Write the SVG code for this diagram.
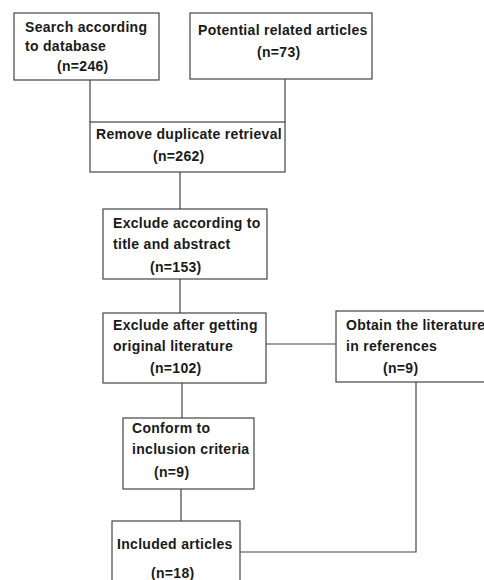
<svg xmlns="http://www.w3.org/2000/svg" width="484" height="580" viewBox="0 0 484 580">
<style>
rect{fill:#fff;stroke:#444;stroke-width:1.2}
line,polyline{fill:none;stroke:#444;stroke-width:1.2}
text{font-family:"Liberation Sans",Arial,sans-serif;font-weight:bold;font-size:14px;letter-spacing:0.3px;fill:#1a1a1a}
</style>
<rect x="0" y="0" width="484" height="580" style="stroke:none"/>
<g id="connectors">
<line x1="90" y1="80" x2="90" y2="122"/>
<line x1="285" y1="79" x2="285" y2="122"/>
<line x1="180" y1="172" x2="180" y2="209"/>
<line x1="180" y1="279" x2="180" y2="313"/>
<line x1="266" y1="344" x2="336" y2="344"/>
<line x1="182" y1="383" x2="182" y2="418"/>
<line x1="181" y1="489" x2="181" y2="521"/>
<polyline points="416,382 416,552 240,552"/>
</g>
<g id="search">
<rect x="14" y="13" width="145" height="67"/>
<text x="25" y="32">Search according</text>
<text x="25" y="51">to database</text>
<text x="57" y="71">(n=246)</text>
</g>
<g id="potential">
<rect x="190" y="13" width="182" height="66"/>
<text x="198" y="35">Potential related articles</text>
<text x="257" y="57">(n=73)</text>
</g>
<g id="remove">
<rect x="90" y="122" width="195" height="50"/>
<text x="96" y="139">Remove duplicate retrieval</text>
<text x="153" y="161">(n=262)</text>
</g>
<g id="exclude-title">
<rect x="103" y="209" width="164" height="70"/>
<text x="113" y="228">Exclude according to</text>
<text x="113" y="249">title and abstract</text>
<text x="150" y="272">(n=153)</text>
</g>
<g id="exclude-original">
<rect x="103" y="313" width="163" height="70"/>
<text x="113" y="330">Exclude after getting</text>
<text x="113" y="351">original literature</text>
<text x="150" y="373">(n=102)</text>
</g>
<g id="obtain">
<rect x="336" y="311" width="160" height="71"/>
<text x="346" y="330">Obtain the literature</text>
<text x="346" y="351">in references</text>
<text x="383" y="373">(n=9)</text>
</g>
<g id="conform">
<rect x="123" y="418" width="131" height="71"/>
<text x="132" y="433">Conform to</text>
<text x="132" y="454">inclusion criteria</text>
<text x="154" y="477">(n=9)</text>
</g>
<g id="included">
<rect x="112" y="521" width="128" height="70"/>
<text x="117" y="549">Included articles</text>
<text x="151" y="578">(n=18)</text>
</g>
</svg>
